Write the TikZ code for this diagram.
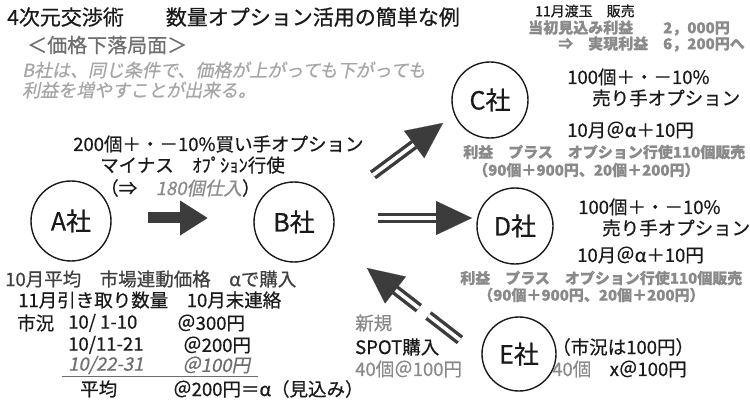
\documentclass[tikz,border=0pt]{standalone}
\usepackage{fontspec}
\setmainfont{Noto Sans CJK JP}[AutoFakeSlant=0.2, FakeBold=0.6]
\usetikzlibrary{arrows.meta,calc}
\definecolor{ink}{HTML}{1A1A1A}
\definecolor{dk}{HTML}{404040}
\definecolor{gr}{HTML}{8A8A8A}
\definecolor{gm}{HTML}{6E6E6E}
\definecolor{lg}{HTML}{A6A6A6}
\definecolor{arr}{HTML}{3C3C3C}
\tikzset{
  txt/.style={anchor=west, inner sep=0pt, text=ink, font=\fontsize{18.5}{19}\selectfont},
  fsz/.style={font=\fontsize{#1}{#1}\selectfont},
  firm/.style={circle, draw=ink, line width=1.4pt, inner sep=0pt, text=ink, font=\fontsize{25}{25}\selectfont},
  blockarrow/.style={draw=arr, line width=11pt, -{Triangle[length=28pt,width=33pt]}},
  dblshaft/.style={draw=arr, line width=3.4pt, double=white, double distance=3.6pt},
  headonly/.style={draw=arr, line width=0.1pt, -{Triangle[length=36pt,width=34pt]}},
}
\begin{document}
\begin{tikzpicture}[x=1pt,y=-1pt]
\useasboundingbox[fill=white] (0,0) rectangle (750,406);

% firms
\node[firm, minimum size=80pt] (A) at (71,221) {A社};
\node[firm, minimum size=80pt] (B) at (294,222) {B社};
\node[firm, minimum size=76pt] (C) at (490,100) {C社};
\node[firm, minimum size=76pt] (D) at (515,226) {D社};
\node[firm, minimum size=74pt] (E) at (519,354) {E社};

% title and subtitle
\node[txt, fsz=21] (title) at (7,17) {4次元交渉術　　数量オプション活用の簡単な例};
\node[txt, fsz=20, text=gm] (sub) at (27,45) {＜価格下落局面＞};
\node[txt, fsz=18, text=lg] (it1) at (22,70) {\itshape B社は、同じ条件で、価格が上がっても下がっても};
\node[txt, fsz=18, text=lg] (it2) at (22,90) {\itshape 利益を増やすことが出来る。};

% top right
\node[txt, fsz=14] (tr1) at (535,11) {11月渡玉　販売};
\node[txt, fsz=15, text=gr] (tr2) at (528,28) {\bfseries 当初見込み利益　　2，000円};
\node[txt, fsz=15, text=gr] (tr3) at (558,44) {\bfseries ⇒　実現利益　6，200円へ};

% C texts
\node[txt] (c1) at (567,77) {100個＋・－10\%};
\node[txt] (c2) at (592,98) {売り手オプション};
\node[txt] (c3) at (567,130) {10月＠α＋10円};
\node[txt, fsz=15, text=gr] (c4) at (463,152) {\bfseries 利益　プラス　オプション行使110個販売};
\node[txt, fsz=15, text=gr] (c5) at (473,170) {\bfseries （90個＋900円、20個＋200円）};

% D texts
\node[txt] (d1) at (578,207) {100個＋・－10\%};
\node[txt] (d2) at (602,228) {売り手オプション};
\node[txt] (d3) at (577,255) {10月＠α＋10円};
\node[txt, fsz=15, text=gr] (d4) at (460,278) {\bfseries 利益　プラス　オプション行使110個販売};
\node[txt, fsz=15, text=gr] (d5) at (478,295) {\bfseries （90個＋900円、20個＋200円）};

% A-B texts
\node[txt] (ab1) at (73,144) {200個＋・－10\%買い手オプション};
\node[txt] (ab2) at (100,165) {マイナス　ｵﾌﾟｼｮﾝ行使};
\node[txt] (ab3) at (100,188) {（⇒　\textcolor{gr}{\itshape 180個仕入}）};

% bottom left
\node[txt, text=dk] (bl1) at (5,279) {10月平均　市場連動価格　αで購入};
\node[txt] (bl2) at (18,300) {11月引き取り数量　10月末連絡};
\node[txt] (bl3a) at (17,323) {市況};
\node[txt] (bl3b) at (68,323) {10/ 1-10};
\node[txt] (bl3c) at (177,323) {＠300円};
\node[txt] (bl4b) at (68,345) {10/11-21};
\node[txt] (bl4c) at (183,345) {＠200円};
\node[txt, text=gm] (bl5b) at (68,365) {\itshape 10/22-31};
\node[txt, text=gm] (bl5c) at (182,365) {\itshape ＠100円};
\coordinate (ul1) at (62,376);
\coordinate (ul2) at (258,376);
\draw[gm, line width=1pt] (ul1) -- (ul2);
\node[txt] (bl6a) at (80,389) {平均};
\node[txt] (bl6b) at (173,389) {＠200円＝α（見込み）};

% bottom right
\node[txt, text=gr] (br1) at (355,323) {新規};
\node[txt] (br2) at (355,347) {SPOT購入};
\node[txt, text=gr] (br3) at (355,369) {40個＠100円};
\node[txt] (e1) at (552,347) {（市況は100円）};
\node[txt] (e2) at (552,369) {\textcolor{gr}{40個}　x＠100円};

% arrows
\coordinate (abS) at (148,218);
\coordinate (abT) at (208,218);
\draw[blockarrow] (abS) -- (abT);

\coordinate (bdS) at (378,218);
\coordinate (bdT) at (472,218);
\draw[dblshaft] (bdS) -- ($(bdT)!36pt!(bdS)$);
\draw[headonly] ($(bdT)!36pt!(bdS)$) -- (bdT);

\coordinate (bcS) at (373,175);
\coordinate (bcT) at (443,123);
\draw[dblshaft] (bcS) -- ($(bcT)!36pt!(bcS)$);
\draw[headonly] ($(bcT)!36pt!(bcS)$) -- (bcT);

\coordinate (ebS) at (460,340);
\coordinate (ebT) at (367,268);
\draw[dblshaft, dash pattern=on 40pt off 12pt on 200pt] (ebS) -- ($(ebT)!34pt!(ebS)$);
\draw[headonly] ($(ebT)!34pt!(ebS)$) -- (ebT);
\end{tikzpicture}
\end{document}
